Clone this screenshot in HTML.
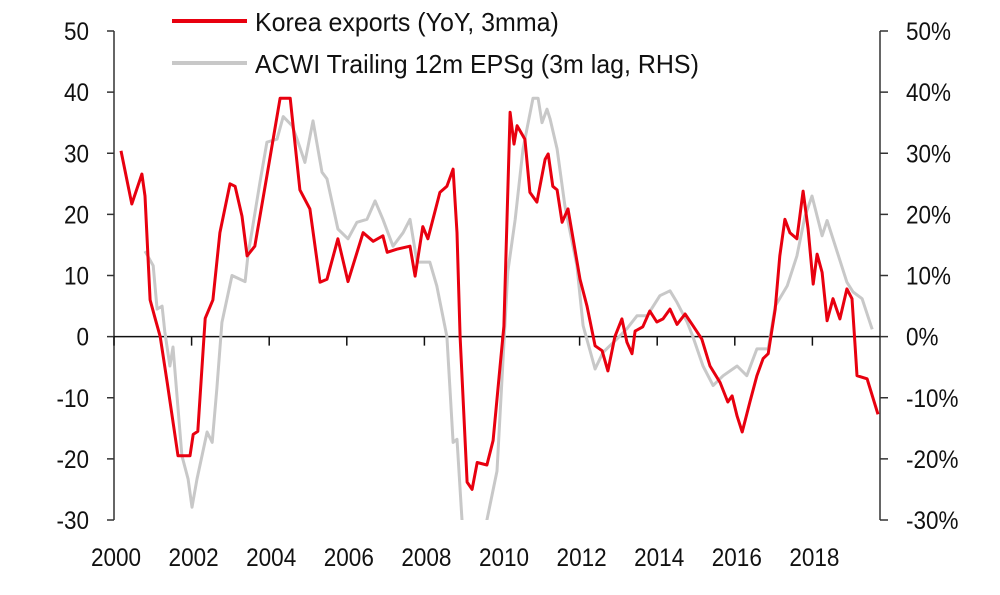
<!DOCTYPE html>
<html><head><meta charset="utf-8"><style>
body{margin:0;background:#fff;}
svg{display:block;font-family:"Liberation Sans",Arial,sans-serif;}
</style></head><body>
<svg id="chart" width="1000" height="595" viewBox="0 0 1000 595">
<defs><clipPath id="plotclip"><rect x="114" y="31" width="766" height="489"/></clipPath></defs>
<g id="axes"></g>
<g id="series" clip-path="url(#plotclip)"></g>
<g id="legend">
<line x1="172" y1="21" x2="247" y2="21" stroke="#e8000f" stroke-width="4"/>
<text class="lg" x="255" y="31" font-size="26" fill="#111">Korea exports (YoY, 3mma)</text>
<line x1="172" y1="63" x2="247" y2="63" stroke="#c8c8c8" stroke-width="4"/>
<text class="lg" x="255" y="73" font-size="26" fill="#111">ACWI Trailing 12m EPSg (3m lag, RHS)</text>
</g>
</svg>
<script>
const koreaYears=[2000.18,2000.46,2000.72,2000.80,2000.93,2001.06,2001.19,2001.37,2001.65,2001.96,2002.04,2002.16,2002.35,2002.55,2002.73,2002.99,2003.12,2003.30,2003.43,2003.63,2003.94,2004.28,2004.54,2004.79,2005.05,2005.31,2005.49,2005.77,2006.03,2006.42,2006.68,2006.93,2007.04,2007.29,2007.63,2007.76,2007.96,2008.09,2008.40,2008.58,2008.74,2008.84,2008.92,2009.10,2009.23,2009.36,2009.61,2009.77,2009.95,2010.05,2010.21,2010.31,2010.39,2010.59,2010.72,2010.90,2011.11,2011.19,2011.31,2011.42,2011.55,2011.70,2012.01,2012.19,2012.40,2012.58,2012.73,2012.91,2013.09,2013.22,2013.35,2013.43,2013.63,2013.81,2013.99,2014.15,2014.33,2014.51,2014.72,2014.92,2015.15,2015.36,2015.62,2015.82,2015.93,2016.06,2016.19,2016.39,2016.57,2016.73,2016.86,2017.04,2017.16,2017.29,2017.42,2017.60,2017.76,2017.89,2018.02,2018.12,2018.25,2018.38,2018.53,2018.71,2018.89,2019.02,2019.10,2019.15,2019.41,2019.69];
const koreaValues=[30.4,21.7,26.6,23,6,3,0,-7.5,-19.5,-19.5,-16,-15.5,3,6,17,25,24.6,19.7,13.2,14.8,26.3,39,39,24,20.9,8.9,9.4,16,9,17,15.6,16.5,13.8,14.3,14.8,9.9,18,16,23.6,24.6,27.4,17,0,-23.8,-25,-20.6,-21,-17,-4.8,1.7,36.7,31.5,34.5,32.3,23.6,22,29,29.9,24.6,24,18.7,20.9,9.4,5,-1.5,-2.3,-5.6,0,2.9,-0.9,-2.8,0.9,1.6,4.2,2.4,2.9,4.5,2,3.7,1.8,-0.4,-4.8,-7.5,-10.7,-9.7,-13,-15.6,-10.7,-6.4,-3.6,-2.8,4.5,13.2,19.2,17,16,23.8,17.6,8.6,13.5,10.5,2.6,6.2,2.9,7.8,6.2,-1.5,-6.4,-6.9,-12.7];
const acwiYears=[2000.80,2001.01,2001.11,2001.24,2001.31,2001.44,2001.52,2001.75,2001.91,2002.01,2002.14,2002.40,2002.53,2002.65,2002.78,2003.04,2003.38,2003.45,2003.76,2003.94,2004.20,2004.36,2004.59,2004.72,2004.92,2005.13,2005.36,2005.49,2005.77,2006.03,2006.26,2006.52,2006.73,2006.93,2007.19,2007.45,2007.63,2007.81,2008.14,2008.32,2008.58,2008.74,2008.84,2008.97,2009.18,2009.43,2009.61,2009.87,2010.15,2010.34,2010.54,2010.80,2010.93,2011.03,2011.16,2011.24,2011.42,2011.62,2011.93,2012.09,2012.40,2012.60,2012.96,2013.22,2013.48,2013.74,2014.07,2014.33,2014.51,2014.77,2014.92,2015.18,2015.44,2015.70,2016.06,2016.31,2016.57,2016.86,2017.04,2017.35,2017.60,2017.81,2017.99,2018.25,2018.38,2018.53,2018.89,2019.05,2019.28,2019.54];
const acwiValues=[14,11.6,4.5,5,0.8,-4.8,-1.7,-19.5,-23.3,-27.9,-23.3,-15.6,-17.3,-8.6,2.3,10,9,13.2,25.2,31.8,32.3,36,34.5,32.3,28.5,35.3,26.9,25.8,17.6,16,18.7,19.2,22.2,19.2,14.8,17,19.2,12.2,12.2,8.3,0,-17.3,-16.8,-30,-40,-40,-30,-22,10.6,19.2,30.7,39,39,35,37.2,35.6,30.7,21.4,11.6,1.8,-5.3,-2.6,-0.4,1.3,3.4,3.4,6.7,7.5,5.6,2.4,0,-4.8,-8,-6.4,-4.8,-6.4,-2,-2,5,8.3,13.2,19.7,23,16.5,19,16,8.9,7.3,6.2,1.2];
const leftTicks=[50,40,30,20,10,0,-10,-20,-30];
const rightTickLabels=["50%","40%","30%","20%","10%","0%","-10%","-20%","-30%"];
const xTickYears=[2000,2002,2004,2006,2008,2010,2012,2014,2016,2018];

const NS="http://www.w3.org/2000/svg";
const X0=114,X1=880,Y0=31,Y1=520;
function xs(yr){return X0+(yr-2000)*38.8;}
function ys(v){return Y1-(v+30)*(Y1-Y0)/80;}
function mk(tag,attrs,parent){const e=document.createElementNS(NS,tag);for(const k in attrs)e.setAttribute(k,attrs[k]);parent.appendChild(e);return e;}
const axes=document.getElementById('axes');
const series=document.getElementById('series');
const ax="#333";
let e;
e=mk('line',{x1:X0,y1:Y0,x2:X0,y2:Y1,stroke:ax,'stroke-width':1.5},axes);


e=mk('line',{x1:X1,y1:Y0,x2:X1,y2:Y1,stroke:ax,'stroke-width':1.5},axes);


e=mk('line',{x1:X0,y1:ys(0),x2:X1,y2:ys(0),stroke:"#111",'stroke-width':1.5},axes);


leftTicks.forEach((v,i)=>{
  const y=ys(v);
  e=mk('line',{x1:X0-7,y1:y,x2:X0,y2:y,stroke:ax,'stroke-width':1.5},axes);
  
  
  e=mk('text',{class:'sq',x:89,y:y+9,'text-anchor':'end','font-size':25,fill:'#111'},axes);e.textContent=v;
  
  
  e=mk('line',{x1:X1,y1:y,x2:X1+8,y2:y,stroke:ax,'stroke-width':1.5},axes);
  
  
  e=mk('text',{class:'sq',x:906,y:y+9,'font-size':25,fill:'#111'},axes);e.textContent=rightTickLabels[i];
  
  
});
xTickYears.forEach(yr=>{
  const x=xs(yr);
  e=mk('line',{x1:x,y1:ys(0),x2:x,y2:ys(0)+9,stroke:"#111",'stroke-width':1.5},axes);
  
  
  e=mk('text',{class:'sq',x:x+2,y:566,'text-anchor':'middle','font-size':25,fill:'#111'},axes);e.textContent=yr;
  
  
});
function squeeze(sel,f){
  document.querySelectorAll(sel).forEach(t=>{
    const w=t.getComputedTextLength();
    t.setAttribute('textLength',(w*f).toFixed(1));
    t.setAttribute('lengthAdjust','spacingAndGlyphs');
  });
}
squeeze('text.sq',0.9);
squeeze('text.lg',0.96);
function path(yrs,vals){return yrs.map((t,i)=>(i?'L':'M')+xs(t).toFixed(1)+','+ys(vals[i]).toFixed(1)).join(' ');}
e=mk('path',{d:path(acwiYears,acwiValues),fill:'none',stroke:'#c8c8c8','stroke-width':3,'stroke-linejoin':'round'},series);


e=mk('path',{d:path(koreaYears,koreaValues),fill:'none',stroke:'#e8000f','stroke-width':3,'stroke-linejoin':'round'},series);


</script>
</body></html>
